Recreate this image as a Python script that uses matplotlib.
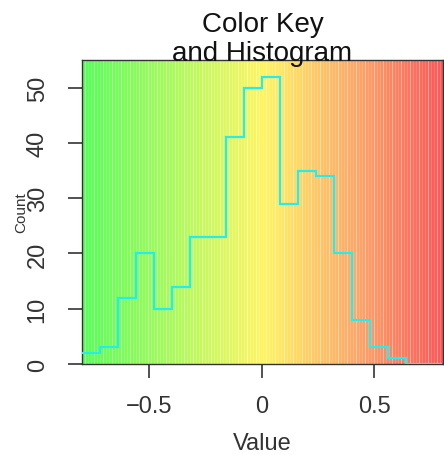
import matplotlib
matplotlib.use("Agg")
import matplotlib.pyplot as plt
import numpy as np
from matplotlib.colors import LinearSegmentedColormap

plt.rcParams['font.family'] = ['Liberation Sans', 'DejaVu Sans']

# histogram data
bin_edges = [-0.80, -0.72, -0.64, -0.56, -0.48, -0.40, -0.32, -0.24, -0.16, -0.08,
             0.00, 0.08, 0.16, 0.24, 0.32, 0.40, 0.48, 0.56, 0.64, 0.72, 0.80]
counts = [2, 3, 12, 20, 10, 14, 23, 23, 41, 50, 52, 29, 35, 34, 20, 8, 3, 1, 0, 0]
x_ticks = [-0.5, 0, 0.5]
x_tick_labels = ["\u22120.5", "0", "0.5"]
y_ticks = [0, 10, 20, 30, 40, 50]
key_range = (-0.80, 0.805)
n_key_cells = 120

cmap = LinearSegmentedColormap.from_list(
    "key", [(0.0, "#55FF55"), (0.5, "#FFF560"), (0.75, "#FFA866"), (1.0, "#FF5555")])

fig = plt.figure(figsize=(4.44, 4.56), dpi=100)
ax = fig.add_axes([82 / 444, 91 / 456, 361 / 444, 304 / 456])

# color key background
key_edges = np.linspace(key_range[0], key_range[1], n_key_cells + 1)
key_vals = np.linspace(0, 1, n_key_cells).reshape(1, -1)
ax.pcolormesh(key_edges, [0, 55], key_vals, cmap=cmap, shading="flat", zorder=0)
for i, xe in enumerate(key_edges[1:-1]):
    ax.axvline(xe, color="white", alpha=0.45 if i % 3 == 0 else 0.2, lw=0.8, zorder=1)

# histogram outline
ax.stairs(counts, bin_edges, baseline=None, color="#22EEEE", lw=1.6, zorder=3)

ax.set_xlim(*key_range)
ax.set_ylim(0, 55)
ax.set_xticks(x_ticks)
ax.set_xticklabels(x_tick_labels)
ax.set_yticks(y_ticks)
ax.set_yticklabels([str(v) for v in y_ticks], rotation=90, va="center")
ax.tick_params(axis="both", length=10, width=1.2, labelsize=17, color="#333333",
               labelcolor="#333333", pad=12)
ax.tick_params(axis="y", pad=14)
for sp in ax.spines.values():
    sp.set_color("#333333")
    sp.set_linewidth(1.0)

ax.set_xlabel("Value", fontsize=17, color="#333333", labelpad=11)
ax.set_ylabel("Count", fontsize=11, color="#333333", labelpad=-1)
ax.set_title("Color Key\nand Histogram", fontsize=20, color="#111111",
             linespacing=1.15, y=1.0, pad=0)

fig.savefig("out.png", dpi=100)
